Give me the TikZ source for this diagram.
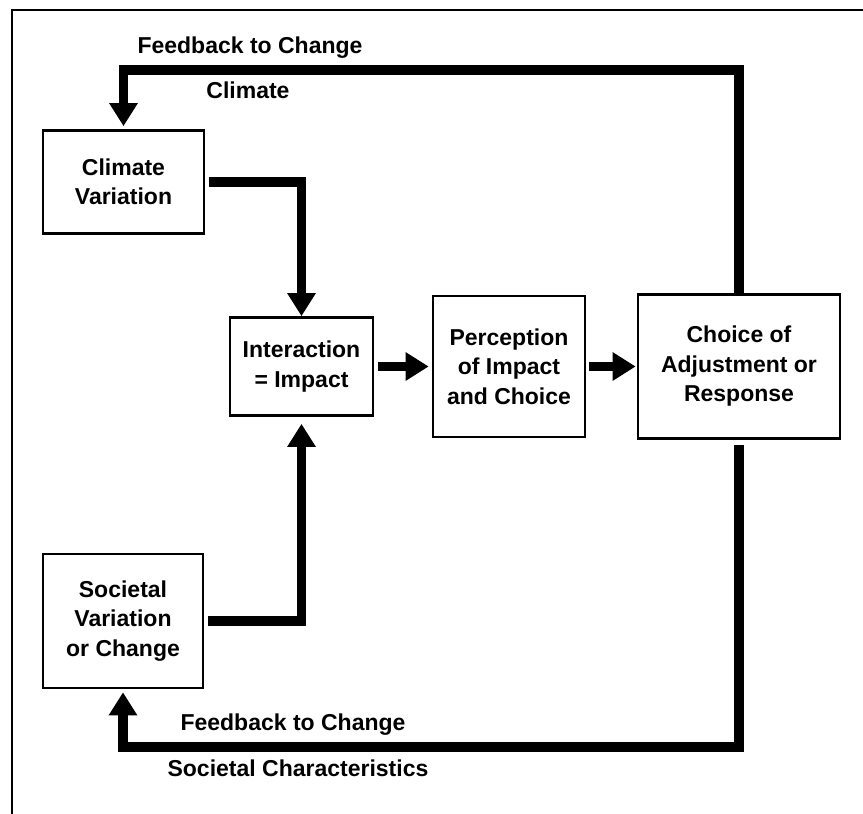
\documentclass[tikz,border=0pt]{standalone}
\usepackage{fontspec}
\setmainfont{Liberation Sans}
\usetikzlibrary{arrows.meta, positioning, calc}

\begin{document}
\begin{tikzpicture}[
    x=0.5pt, y=-0.5pt,
    box/.style={rectangle, draw=black, line width=1.3pt, align=center,
                inner sep=0pt, font=\fontsize{11.5}{14.75}\selectfont\bfseries},
    flow/.style={line width=4.6pt, draw=black},
    arrow/.style={flow, -{Triangle[length=11.5pt, width=13.5pt]}},
    fbtext/.style={font=\fontsize{11.5}{14.75}\selectfont\bfseries},
]

\useasboundingbox (0,0) rectangle (863,814);

% Frame (left and top edges only)
\draw[line width=1pt] (12,814) -- (12,10) -- (863,10);

% --- Boxes ---
\node[box, minimum width=80.5pt, minimum height=51.5pt] (climvar) at (123.5,182) {Climate\\Variation};
\node[box, minimum width=80pt, minimum height=67pt] (societal) at (123,621) {Societal\\Variation\\or Change};
\node[box, minimum width=71.5pt, minimum height=49pt] (interact) at (301.5,366.5) {Interaction\\= Impact};
\node[box, minimum width=76pt, minimum height=70.5pt] (percep) at (509,366.5) {Perception\\of Impact\\and Choice};
\node[box, minimum width=101pt, minimum height=72pt] (choice) at (739,366.5) {Choice of\\Adjustment or\\Response};

% Feedback levels
\coordinate (fbtop) at (0,70);
\coordinate (fbbot) at (0,747);

% --- Labels ---
\node[fbtext] (fbclim) at (250,48) {Feedback to Change};
\node[fbtext] (clim) at (248,90) {Climate};
\node[fbtext] (fbsoc) at (293,725) {Feedback to Change};
\node[fbtext] (soc) at (298,768) {Societal Characteristics};

% --- Arrows ---
% Climate and society into the impact box
\draw[arrow, shorten <=2pt] (climvar.east) -| (interact.north);
\draw[arrow, shorten <=2pt, shorten >=3.5pt] (societal.east) -| (interact.south);

% Main chain
\draw[arrow, shorten <=2pt, shorten >=1.5pt] (interact.east) -- (percep.west);
\draw[arrow, shorten <=1.5pt, shorten >=0.5pt] (percep.east) -- (choice.west);

% Feedback loops
\draw[arrow, shorten >=1.5pt] (choice.north) |- (fbtop -| climvar) -- (climvar.north);
\draw[arrow, shorten <=2.5pt, shorten >=1.5pt] (choice.south) |- (fbbot -| societal) -- (societal.south);

\end{tikzpicture}
\end{document}
